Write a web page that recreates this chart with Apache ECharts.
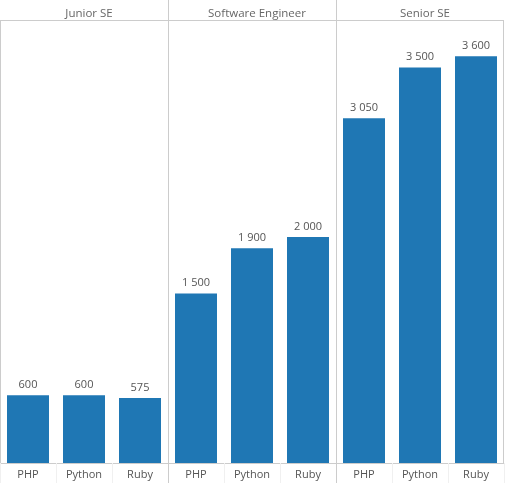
<!DOCTYPE html>
<html>
<head>
<meta charset="utf-8">
<script src="https://cdn.jsdelivr.net/npm/echarts@6/dist/echarts.min.js"></script>
<style>html,body{margin:0;padding:0;background:#fff}#c{width:505px;height:483px}</style>
</head>
<body>
<div id="c"></div>
<script>
const panels = ['Junior SE', 'Software Engineer', 'Senior SE'];
const languages = ['PHP', 'Python', 'Ruby'];
const juniorSE = [600, 600, 575];
const softwareEngineer = [1500, 1900, 2000];
const seniorSE = [3050, 3500, 3600];
const panelValues = [juniorSE, softwareEngineer, seniorSE];

const W = 168, TOP = 20, BOTTOM = 20, YMAX = 3920;
const font = '"Open Sans", "DejaVu Sans", sans-serif';
const fmt = v => String(v).replace(/\B(?=(\d{3})+(?!\d))/g, ' ');

const grid = [], xAxis = [], yAxis = [], series = [], title = [];
panels.forEach((name, i) => {
  grid.push({left: i * W, width: W, top: TOP, bottom: BOTTOM, show: false, containLabel: false});
  xAxis.push({
    type: 'category', gridIndex: i, data: languages,
    axisLine: {show: true, lineStyle: {color: '#cccccc'}},
    axisTick: {show: true, length: 20, lineStyle: {color: '#f0f0f0'}},
    axisLabel: {color: '#555555', fontSize: 11, fontFamily: font, margin: 6}
  });
  yAxis.push({type: 'value', gridIndex: i, min: 0, max: YMAX, show: false, splitLine: {show: false}});
  series.push({
    type: 'bar', xAxisIndex: i, yAxisIndex: i, data: panelValues[i],
    barWidth: '75%', itemStyle: {color: '#1f77b4'},
    label: {show: true, position: 'top', distance: 5, color: '#555555', fontSize: 11, fontFamily: font,
      formatter: p => fmt(p.value)}
  });
  title.push({text: name, left: i * W + W / 2, top: 3, textAlign: 'center',
    textStyle: {fontSize: 11.5, fontWeight: 'normal', color: '#666666', fontFamily: font}});
});

const line = (x1, y1, x2, y2) => ({type: 'line', z: 100, shape: {x1, y1, x2, y2}, style: {stroke: '#cccccc', lineWidth: 1}});
const chart = echarts.init(document.getElementById('c'), null, {renderer: 'canvas'});
chart.setOption({
  animation: false,
  title, grid, xAxis, yAxis, series,
  graphic: [
    line(0, 20.5, 504, 20.5),
    line(0.5, 20, 0.5, 463),
    line(503.5, 20, 503.5, 463),
    line(168.5, 0, 168.5, 483),
    line(336.5, 0, 336.5, 483)
  ]
});
</script>
</body>
</html>
